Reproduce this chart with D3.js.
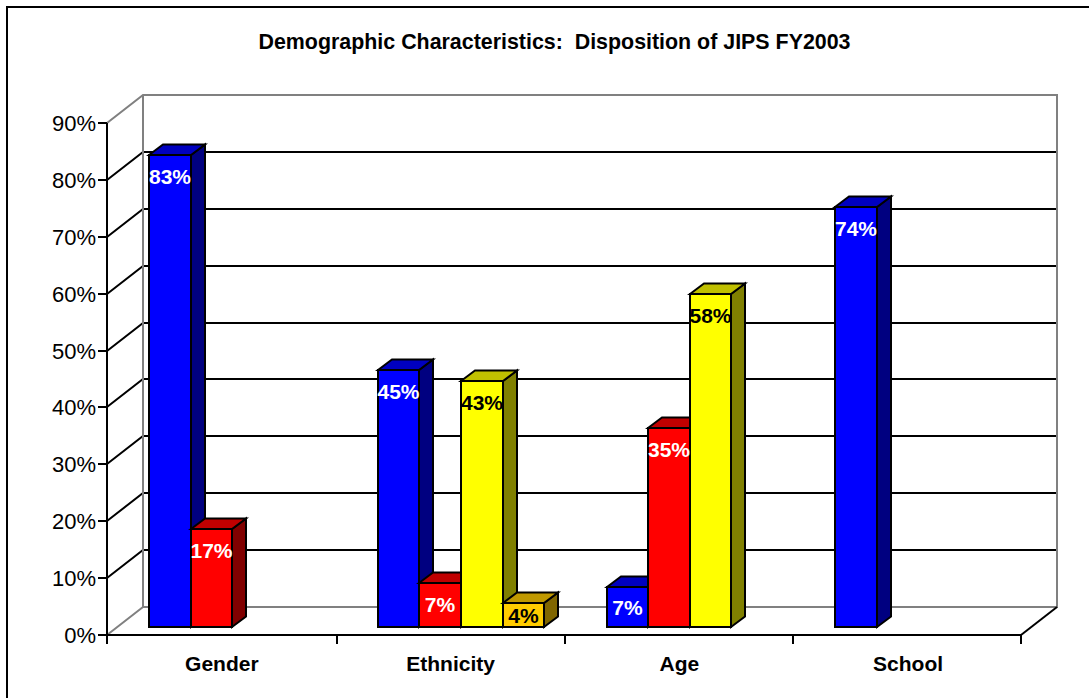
<!DOCTYPE html>
<html><head><meta charset="utf-8">
<script src="https://cdn.jsdelivr.net/npm/d3@7"></script>
<style>html,body{margin:0;padding:0;background:#fff;overflow:hidden}svg{display:block}text{font-family:"Liberation Sans",Arial,sans-serif}</style>
</head><body><svg id="c" width="1089" height="698"></svg>
<script>
const titleText = "Demographic Characteristics:  Disposition of JIPS FY2003";
const categories = ["Gender","Ethnicity","Age","School"];
const seriesNames = ["s1","s2","s3","s4"];
const series1 = [83,45.1,7,73.8];
const series2 = [17.2,7.7,34.9,null];
const series3 = [null,43.3,58.5,null];
const series4 = [null,4.2,null,null];
const labels1 = ["83%","45%","7%","74%"];
const labels2 = ["17%","7%","35%",null];
const labels3 = [null,"43%","58%",null];
const labels4 = [null,"4%",null,null];
const yTicks = [0,10,20,30,40,50,60,70,80,90];
const faceFront = ["#0000ff","#ff0000","#ffff00","#ffcc00"];
const faceTop = ["#0000c0","#c00000","#c0c000","#c09900"];
const faceSide = ["#000080","#800000","#808000","#806600"];
const labelColor = ["#fff","#fff","#000","#000"];

const svg = d3.select("#c");
const X0=107,X1=1021,Y0=635,Y90=123,DX=36,DY=-28;
const BX=11.5,BY=-8,SX=14,SY=-10.5;
const x = d3.scaleBand().domain(categories).range([X0,1022]);
const y = d3.scaleLinear().domain([0,90]).rangeRound([Y0,Y90]);
const inner = d3.scaleBand().domain(seriesNames).range([30.5,197]);
const allVals=[series1,series2,series3,series4], allLabels=[labels1,labels2,labels3,labels4];

svg.append("rect").attr("x",7).attr("y",7).attr("width",1300).attr("height",1000).attr("fill","none").attr("stroke","#000").attr("stroke-width",2);

svg.append("text").attr("x",554.5).attr("y",48.5).attr("text-anchor","middle").attr("font-size",21.4).attr("font-weight","bold").style("white-space","pre").text(titleText);

// walls & grid
const grey="#808080";
yTicks.filter(t=>t>0&&t<90).forEach(t=>{
  svg.append("path").attr("d",`M${X0},${y(t)}L${X0+DX},${y(t)+DY}L${X1+DX-1},${y(t)+DY}`).attr("fill","none").attr("stroke","#000").attr("stroke-width",2);
});
svg.append("path").attr("d",`M${X0},${y(90)}L${X0+DX},${y(90)+DY}L${X1+DX},${y(90)+DY}L${X1+DX},${y(0)+DY}L${X0+DX},${y(0)+DY}L${X0+DX},${y(90)+DY}M${X0},${y(0)}L${X0+DX},${y(0)+DY}`).attr("fill","none").attr("stroke",grey).attr("stroke-width",2);
svg.append("line").attr("x1",X1).attr("y1",y(0)).attr("x2",X1+DX).attr("y2",y(0)+DY).attr("stroke","#000").attr("stroke-width",2);

// axes
svg.append("line").attr("x1",X0).attr("x2",X0).attr("y1",y(90)).attr("y2",y(0)+9).attr("stroke","#000").attr("stroke-width",2);
svg.append("line").attr("x1",X0).attr("x2",X1).attr("y1",y(0)).attr("y2",y(0)).attr("stroke","#000").attr("stroke-width",2);
yTicks.forEach(t=>{
  svg.append("line").attr("x1",X0-9).attr("x2",X0).attr("y1",y(t)).attr("y2",y(t)).attr("stroke","#000").attr("stroke-width",2);
  svg.append("text").attr("x",96).attr("y",y(t)+8).attr("text-anchor","end").attr("font-size",22).attr("fill","#000").text(t+"%");
});
categories.forEach((c,i)=>{
  const tx=Math.min(X1,Math.round(x(c)+x.bandwidth())+(i<1?1:0));
  svg.append("line").attr("x1",tx).attr("x2",tx).attr("y1",y(0)).attr("y2",y(0)+9).attr("stroke","#000").attr("stroke-width",2);
  svg.append("text").attr("x",x(c)+x.bandwidth()/2+0.5).attr("y",671).attr("text-anchor","middle").attr("font-size",21).attr("font-weight","bold").text(c);
});

// bars
const labelQueue=[];
categories.forEach((c,ci)=>{
  seriesNames.forEach((s,si)=>{
    const v=allVals[si][ci]; if(v==null) return;
    const l=Math.round(x(c)+inner(s)+BX), r=Math.round(x(c)+inner(s)+BX+inner.bandwidth()), b=y(0)+BY, t=y(v)+BY;
    const st={stroke:"#000","stroke-width":2,"stroke-linejoin":"miter"};
    const add=(d,f)=>{const p=svg.append("path").attr("d",d).attr("fill",f);for(const k in st)p.attr(k,st[k]);};
    add(`M${r},${b}L${r+SX},${b+SY}L${r+SX},${t+SY}L${r},${t}Z`,faceSide[si]);
    add(`M${l},${t}L${l+SX},${t+SY}L${r+SX},${t+SY}L${r},${t}Z`,faceTop[si]);
    add(`M${l},${t}L${r},${t}L${r},${b}L${l},${b}Z`,faceFront[si]);
    labelQueue.push({x:(l+r)/2,y:t+Math.min(21.5,(b-t)/2),text:allLabels[si][ci],fill:labelColor[si]});
  });
});
labelQueue.forEach(d=>{
  svg.append("text").attr("x",d.x).attr("y",d.y+7.5).attr("text-anchor","middle").attr("font-size",21).attr("font-weight","bold").attr("fill",d.fill).text(d.text);
});
</script></body></html>
